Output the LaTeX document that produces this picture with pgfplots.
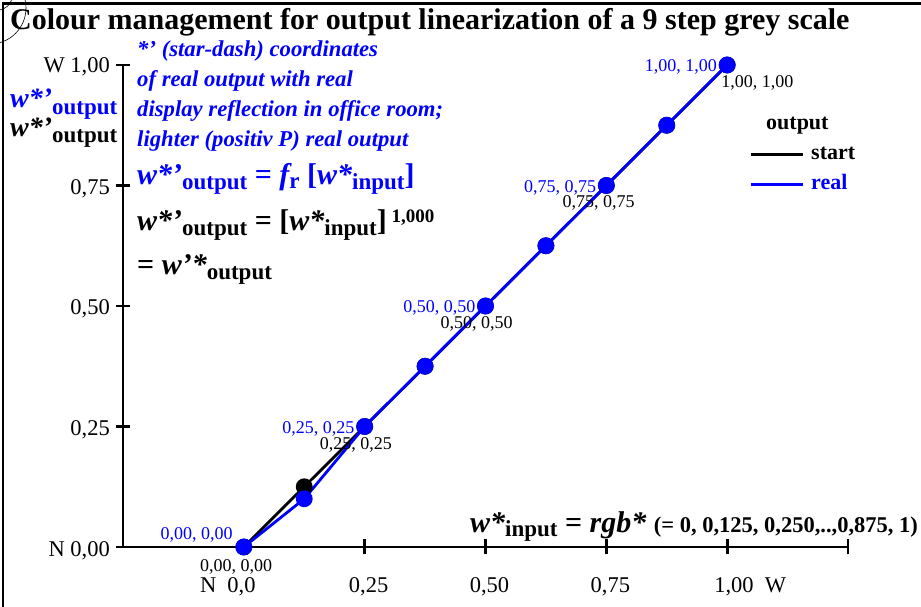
\documentclass[border=0pt]{standalone}
\usepackage{fontspec}
\setmainfont{Liberation Serif}
\usepackage{pgfplots}
\pgfplotsset{compat=1.18}
\definecolor{myblue}{RGB}{0,0,255}
\newcommand{\fs}[1]{\fontsize{#1}{#1}\selectfont}
\newcommand{\sub}[2][5pt]{\raisebox{-#1}{\fs{23}\bfseries\upshape #2}}
\begin{document}
\begin{tikzpicture}
\useasboundingbox (0pt,0pt) rectangle (921pt,607pt);
\fill[white] (0pt,0pt) rectangle (921pt,607pt);
% frame
\draw[line width=2.5pt] (3pt,-10pt) -- (3pt,603.5pt) -- (930pt,603.5pt);
\draw[line width=0.6pt] (-10pt,599pt) circle (36pt);
\draw[line width=0.6pt] (-2pt,611pt) circle (14pt);
% title
\node[anchor=base west, inner sep=0pt, font=\fs{30}\bfseries] at (10pt,577pt) {Colour management for output linearization of a 9 step grey scale};
% blue text block
\begin{scope}[every node/.style={anchor=base west, inner sep=0pt, text=myblue, font=\fs{22.7}\bfseries\itshape}]
\node at (137pt,550pt) {*’ (star-dash) coordinates};
\node at (137pt,520pt) {of real output with real};
\node at (137pt,490pt) {display reflection in office room;};
\node at (137pt,460pt) {lighter (positiv P) real output};
\end{scope}
\node[anchor=base west, inner sep=0pt, text=myblue, font=\fs{30}\bfseries\itshape] at (137pt,422pt) {w*’\sub{output} {\upshape =} f\sub[4pt]{r} {\upshape [}w*\sub{input}{\upshape ]}};
\node[anchor=base west, inner sep=0pt, font=\fs{30}\bfseries\itshape] at (137pt,376pt) {w*’\sub{output} {\upshape = [}w*\sub{input}{\upshape ]}\raisebox{8pt}{\fs{19}\bfseries\upshape\ 1,000}};
\node[anchor=base west, inner sep=0pt, font=\fs{30}\bfseries\itshape] at (137pt,332pt) {{\upshape =} w’*\sub{output}};
% left labels
\node[anchor=base west, inner sep=0pt, text=myblue, font=\fs{28}\bfseries\itshape] at (10pt,499pt) {w*’\sub[7pt]{output}};
\node[anchor=base west, inner sep=0pt, font=\fs{28}\bfseries\itshape] at (10pt,470pt) {w*’\sub[6pt]{output}};
% bottom-right label
\node[anchor=base west, inner sep=0pt, font=\fs{30}\bfseries\itshape] at (470pt,74pt) {w*\sub[4pt]{input} {\upshape =} rgb* {\fs{22.5}\upshape (= 0, 0,125, 0,250,..,0,875, 1)}};
% legend
\node[anchor=base west, inner sep=0pt, font=\fs{22}\bfseries] at (766pt,477pt) {output};
\draw[line width=3pt] (751pt,452pt) -- (803pt,452pt);
\node[anchor=base west, inner sep=0pt, font=\fs{22}\bfseries] at (811pt,447pt) {start};
\draw[line width=3pt, myblue] (751pt,422pt) -- (803pt,422pt);
\node[anchor=base west, inner sep=0pt, text=myblue, font=\fs{22}\bfseries] at (811pt,417pt) {real};
\begin{axis}[
  at={(123pt,60pt)}, anchor=south west,
  x=483.333pt, y=482pt,
  xmin=-0.25, xmax=1.25, ymin=0, ymax=1,
  axis lines=left,
  axis line style={-, line width=2.8pt},
  tick align=center, major tick length=15pt,
  tick style={line width=2.8pt, black},
  xtick={0,0.25,0.5,0.75,1,1.25}, xticklabels={},
  ytick={0,0.25,0.5,0.75,1}, yticklabels={},
  clip=false,
]
\addplot[black, line width=2.8pt, mark=*, mark size=7pt] coordinates {
 (0,0) (0.125,0.125) (0.25,0.25) (0.375,0.375) (0.5,0.5) (0.625,0.625) (0.75,0.75) (0.875,0.875) (1,1)};
\addplot[myblue, line width=2.8pt, mark=*, mark size=7pt] coordinates {
 (0,0) (0.125,0.1) (0.25,0.25) (0.375,0.375) (0.5,0.5) (0.625,0.625) (0.75,0.75) (0.875,0.875) (1,1)};
% tick labels
\begin{scope}[every node/.style={inner sep=0pt, font=\fs{22.5}}]
\node[anchor=base east, xshift=12pt, yshift=-46pt] at (axis cs:0,0) {N\ \ 0,0};
\node[anchor=base, xshift=4pt, yshift=-46pt] at (axis cs:0.25,0) {0,25};
\node[anchor=base, xshift=4pt, yshift=-46pt] at (axis cs:0.5,0) {0,50};
\node[anchor=base, xshift=4pt, yshift=-46pt] at (axis cs:0.75,0) {0,75};
\node[anchor=base west, xshift=-13pt, yshift=-46pt] at (axis cs:1,0) {1,00\ \ W};
\node[anchor=base east, xshift=-13pt, yshift=-10pt] at (axis cs:-0.25,0) {N 0,00};
\node[anchor=base east, xshift=-13pt, yshift=-9pt] at (axis cs:-0.25,0.25) {0,25};
\node[anchor=base east, xshift=-13pt, yshift=-9pt] at (axis cs:-0.25,0.5) {0,50};
\node[anchor=base east, xshift=-13pt, yshift=-9pt] at (axis cs:-0.25,0.75) {0,75};
\node[anchor=base east, xshift=-13pt, yshift=-8pt] at (axis cs:-0.25,1) {W 1,00};
\end{scope}
% point labels
\begin{scope}[every node/.style={inner sep=0pt, font=\fs{18}}]
\node[anchor=base east, text=myblue, xshift=-11pt, yshift=7pt] at (axis cs:0,0) {0,00, 0,00};
\node[anchor=base east, text=myblue, xshift=-10pt, yshift=-7pt] at (axis cs:0.25,0.25) {0,25, 0,25};
\node[anchor=base east, text=myblue, xshift=-10pt, yshift=-7pt] at (axis cs:0.5,0.5) {0,50, 0,50};
\node[anchor=base east, text=myblue, xshift=-10pt, yshift=-7pt] at (axis cs:0.75,0.75) {0,75, 0,75};
\node[anchor=base east, text=myblue, xshift=-10pt, yshift=-7pt] at (axis cs:1,1) {1,00, 1,00};
\node[anchor=base west, xshift=-44pt, yshift=-25pt] at (axis cs:0,0) {0,00, 0,00};
\node[anchor=base west, xshift=-45pt, yshift=-23pt] at (axis cs:0.25,0.25) {0,25, 0,25};
\node[anchor=base west, xshift=-45pt, yshift=-23pt] at (axis cs:0.5,0.5) {0,50, 0,50};
\node[anchor=base west, xshift=-44pt, yshift=-22pt] at (axis cs:0.75,0.75) {0,75, 0,75};
\node[anchor=base west, xshift=-6pt, yshift=-23pt] at (axis cs:1,1) {1,00, 1,00};
\end{scope}
\end{axis}
\end{tikzpicture}
\end{document}
